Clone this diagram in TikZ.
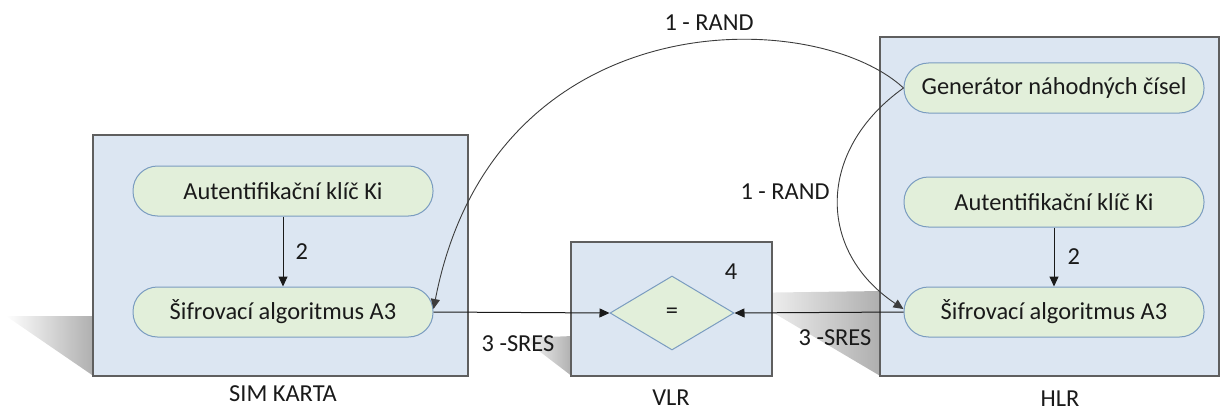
\documentclass[tikz,border=0pt]{standalone}
\usepackage{fontspec}
\setmainfont{Carlito}
\usetikzlibrary{arrows.meta,shapes.geometric}
\definecolor{boxfill}{HTML}{DCE6F2}
\definecolor{boxline}{HTML}{5F5F5F}
\definecolor{pillfill}{HTML}{E2EFDA}
\definecolor{pillline}{HTML}{7A9CC0}
\definecolor{ink}{HTML}{1A1A1A}
\begin{document}
\begin{tikzpicture}[x=1pt,y=-1pt,
  font=\fontsize{24.4}{28}\selectfont,
  box/.style={draw=boxline, line width=1.6pt, fill=boxfill, inner sep=0pt},
  pill/.style={draw=pillline, line width=1pt, fill=pillfill, rounded corners=24.5pt,
    minimum width=300pt, minimum height=50pt, inner sep=0pt, text=ink},
  decision/.style={diamond, draw=pillline, line width=1pt, fill=pillfill,
    minimum width=124pt, minimum height=74pt, inner sep=0pt, text=ink},
  lbl/.style={text=ink, inner sep=0pt},
  arr/.style={draw=ink, line width=1pt, -{Triangle[length=10pt,width=9pt]}},
  arcarrow/.style={draw=ink!85, line width=0.9pt, -{Triangle[length=10pt,width=9pt]}},
  castshadow/.style={left color=white, right color=black!32}]
\useasboundingbox (0,0) rectangle (1221,412);

% soft cast shadows of the three boxes
\shade[castshadow] (6,316) -- (95,316) -- (95,377) -- cycle;
\shade[castshadow] (522,338) -- (573,336) -- (573,377) -- cycle;
\shade[castshadow] (740,293) -- (882,291) -- (882,377) -- cycle;

% containers
\node[box, minimum width=375pt, minimum height=241pt] (sim) at (280.5,255.5) {};
\node[box, minimum width=201pt, minimum height=134pt] (vlr) at (671.5,309) {};
\node[box, minimum width=339pt, minimum height=339pt] (hlr) at (1049.5,206.5) {};

% SIM card
\node[pill] (simkey) at (283,191) {Autentifikační klíč Ki};
\node[pill] (simalg) at (283,312) {Šifrovací algoritmus A3};
\node[lbl] (simname) at (283,394) {SIM KARTA};

% VLR
\node[decision] (cmp) at (672,313) {=};
\node[lbl] (four) at (731,272) {4};
\node[lbl] (vlrname) at (671,398) {VLR};

% HLR
\node[pill] (gen) at (1054,88) {Generátor náhodných čísel};
\node[pill] (hlrkey) at (1054,202) {Autentifikační klíč Ki};
\node[pill] (hlralg) at (1054,312) {Šifrovací algoritmus A3};
\node[lbl] (hlrname) at (1060,399) {HLR};

% connectors
\draw[arr] (simkey.south) -- node[lbl, right=12pt] {2} (simalg.north);
\draw[arr] (hlrkey.south) -- node[lbl, right=13pt] {2} (hlralg.north);
\draw[arr] (simalg.east) -- (cmp.west);
\draw[arr] (hlralg.west) -- (cmp.east);
\draw[arcarrow] (gen.west) .. controls +(-90,-83) and +(60,-309) .. ([yshift=3pt]simalg.east);
\draw[arcarrow] (gen.west) .. controls +(-87,62) and +(-87,-58) .. ([yshift=3pt]hlralg.west);

% message labels
\node[lbl] (rand1) at (709,23) {1 - RAND};
\node[lbl] (rand2) at (785,192) {1 - RAND};
\node[lbl] (sres1) at (518,344) {3 -SRES};
\node[lbl] (sres2) at (835,338) {3 -SRES};
\end{tikzpicture}
\end{document}
